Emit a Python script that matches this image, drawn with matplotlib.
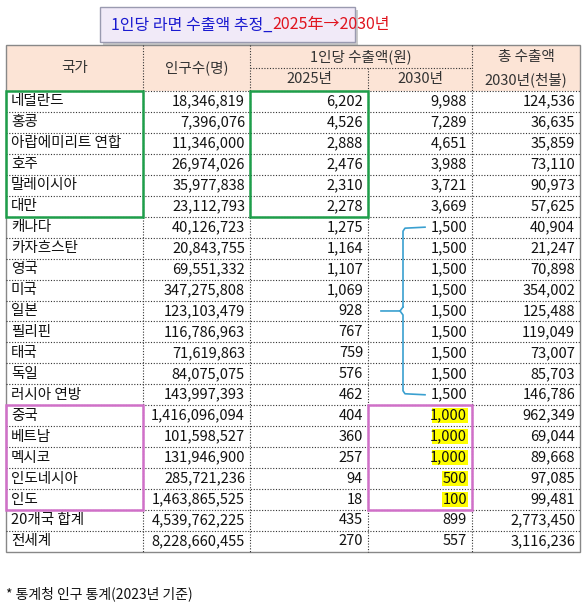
import matplotlib.pyplot as plt
from matplotlib.patches import Rectangle

plt.rcParams['font.family'] = ['Noto Sans CJK KR', 'DejaVu Sans']

countries = ['네덜란드', '홍콩', '아랍에미리트 연합', '호주', '말레이시아', '대만',
             '캐나다', '카자흐스탄', '영국', '미국', '일본', '필리핀', '태국', '독일',
             '러시아 연방', '중국', '베트남', '멕시코', '인도네시아', '인도',
             '20개국 합계', '전세계']
population = ['18,346,819', '7,396,076', '11,346,000', '26,974,026', '35,977,838',
              '23,112,793', '40,126,723', '20,843,755', '69,551,332', '347,275,808',
              '123,103,479', '116,786,963', '71,619,863', '84,075,075', '143,997,393',
              '1,416,096,094', '101,598,527', '131,946,900', '285,721,236',
              '1,463,865,525', '4,539,762,225', '8,228,660,455']
per_2025 = ['6,202', '4,526', '2,888', '2,476', '2,310', '2,278', '1,275', '1,164',
            '1,107', '1,069', '928', '767', '759', '576', '462', '404', '360', '257',
            '94', '18', '435', '270']
per_2030 = ['9,988', '7,289', '4,651', '3,988', '3,721', '3,669'] + ['1,500'] * 9 + \
           ['1,000', '1,000', '1,000', '500', '100', '899', '557']
total_2030 = ['124,536', '36,635', '35,859', '73,110', '90,973', '57,625', '40,904',
              '21,247', '70,898', '354,002', '125,488', '119,049', '73,007', '85,703',
              '146,786', '962,349', '69,044', '89,668', '97,085', '99,481',
              '2,773,450', '3,116,236']

W, H = 587, 609
fig = plt.figure(figsize=(W / 100, H / 100), dpi=100)
ax = fig.add_axes([0, 0, 1, 1])
ax.set_xlim(0, W)
ax.set_ylim(H, 0)
ax.axis('off')

cols = [6, 143, 250, 368, 472, 580]
top, mid, hbot = 45, 68, 91
rh = 20.95
n = len(countries)
bot = hbot + n * rh
fs = 10.5

# title box
ax.add_patch(Rectangle((103, 10), 255, 35, facecolor='#999999', edgecolor='none', alpha=0.5))
ax.add_patch(Rectangle((100, 7), 255, 35, facecolor='#F1EAF8', edgecolor='#9A9AB0', lw=1))
t1 = ax.text(111, 25, '1인당 라면 수출액 추정_', color='#1A1AD0', fontsize=11.5, va='center', ha='left')
fig.canvas.draw()
bb = t1.get_window_extent()
x_end = ax.transData.inverted().transform((bb.x1, bb.y0))[0]
ax.text(x_end, 25, '2025年→2030년', color='#E0141E', fontsize=11.5, va='center', ha='left')

# header
ax.add_patch(Rectangle((cols[0], top), cols[-1] - cols[0], hbot - top, facecolor='#FCE4D6', edgecolor='none'))

dot = dict(color='#333333', lw=0.8, linestyle=(0, (1, 1.5)))
for x in cols[1:-1]:
    ax.plot([x, x], [top if x != 368 else mid, bot], **dot)
ax.plot([cols[2], cols[4]], [mid, mid], **dot)
for i in range(n):
    y = hbot + i * rh
    ax.plot([cols[0], cols[-1]], [y, y], **dot)
ax.add_patch(Rectangle((cols[0], top), cols[-1] - cols[0], bot - top, fill=False, edgecolor='#888888', lw=1))

hc = '#333333'
ax.text((cols[0] + cols[1]) / 2, (top + hbot) / 2, '국가', ha='center', va='center', fontsize=fs, color=hc)
ax.text((cols[1] + cols[2]) / 2, (top + hbot) / 2, '인구수(명)', ha='center', va='center', fontsize=fs, color=hc)
ax.text((cols[2] + cols[4]) / 2, (top + mid) / 2, '1인당 수출액(원)', ha='center', va='center', fontsize=fs, color=hc)
ax.text((cols[2] + cols[3]) / 2, (mid + hbot) / 2, '2025년', ha='center', va='center', fontsize=fs, color=hc)
ax.text((cols[3] + cols[4]) / 2, (mid + hbot) / 2, '2030년', ha='center', va='center', fontsize=fs, color=hc)
ax.text((cols[4] + cols[5]) / 2, (top + mid) / 2, '총 수출액', ha='center', va='center', fontsize=fs, color=hc)
ax.text((cols[4] + cols[5]) / 2, (mid + hbot) / 2, '2030년(천불)', ha='center', va='center', fontsize=fs, color=hc)

# yellow highlights
for i in range(15, 20):
    y = hbot + i * rh
    w = 36 if len(per_2030[i]) > 3 else 26
    ax.add_patch(Rectangle((cols[4] - 4 - w, y + 3), w, rh - 6, facecolor='#FFFF00', edgecolor='none'))

# body text
for i in range(n):
    yc = hbot + (i + 0.5) * rh
    ax.text(cols[0] + 5, yc, countries[i], ha='left', va='center', fontsize=fs, color='#111111')
    for j, vals in enumerate([population, per_2025, per_2030, total_2030]):
        ax.text(cols[j + 2] - 5, yc, vals[i], ha='right', va='center', fontsize=fs, color='#111111')

# highlight boxes
def box(r0, r1, c0, c1, color):
    ax.add_patch(Rectangle((cols[c0], hbot + r0 * rh), cols[c1] - cols[c0], (r1 - r0) * rh,
                           fill=False, edgecolor=color, lw=1.8, zorder=5))

box(0, 6, 0, 1, '#1E9E4A')
box(0, 6, 2, 3, '#1E9E4A')
box(15, 20, 0, 1, '#D070C8')
box(15, 20, 3, 4, '#D070C8')

# brace
bc = '#3AA0D0'
y0, y1 = hbot + 6.5 * rh, hbot + 14.5 * rh
ym = hbot + 10.5 * rh
ax.plot([425, 405, 403, 403], [y0, y0 + 1, y0 + 4, ym - 4], color=bc, lw=1.2)
ax.plot([403, 400, 381], [ym - 4, ym, ym], color=bc, lw=1.2)
ax.plot([400, 403, 403, 405, 425], [ym, ym + 4, y1 - 4, y1 - 1, y1], color=bc, lw=1.2)

ax.text(6, 594, '* 통계청 인구 통계(2023년 기준)', ha='left', va='center', fontsize=10, color='#111111')

fig.savefig('out.png', dpi=100, facecolor='white')
